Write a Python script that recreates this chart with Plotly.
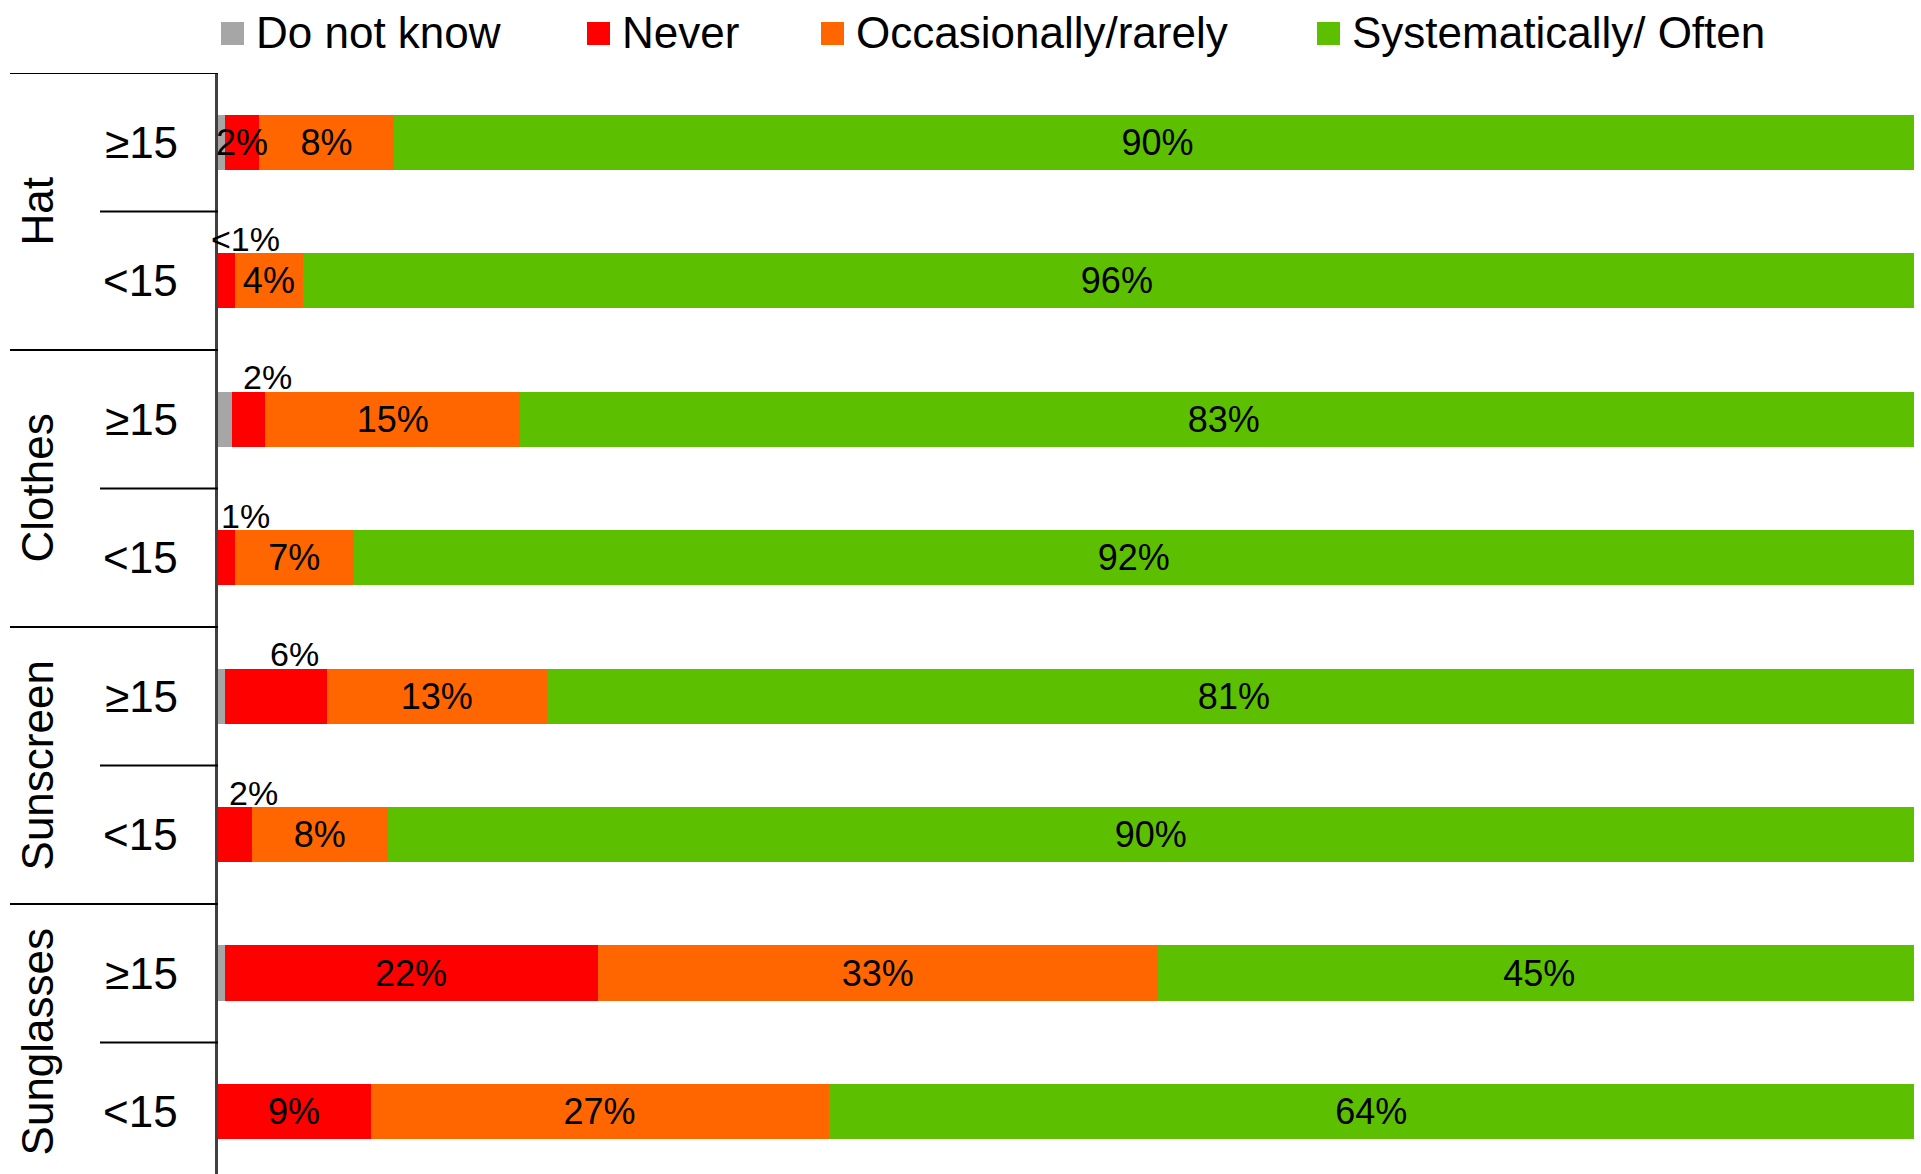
import plotly.graph_objects as go

# ---------------- data ----------------
groups = ["Hat", "Clothes", "Sunscreen", "Sunglasses"]
row_groups = ["Hat", "Hat", "Clothes", "Clothes", "Sunscreen", "Sunscreen", "Sunglasses", "Sunglasses"]
row_ages = ["≥15", "<15", "≥15", "<15", "≥15", "<15", "≥15", "<15"]

series_names = ["Do not know", "Never", "Occasionally/rarely", "Systematically/ Often"]
do_not_know = [0.4, 0.0, 0.8, 0.0, 0.4, 0.0, 0.4, 0.0]
never = [2, 1, 2, 1, 6, 2, 22, 9]
occasionally = [8, 4, 15, 7, 13, 8, 33, 27]
systematically = [90, 96, 83, 92, 81, 90, 45, 64]

never_inside_text = ["2%", "", "", "", "", "", "22%", "9%"]
small_label_text = ["", "<1%", "2%", "1%", "6%", "2%", "", ""]

# ---------------- style ----------------
colors = ["#A6A6A6", "#FF0000", "#FF6600", "#5CBF00"]
FONT = "Liberation Sans, Arial, sans-serif"
W, H = 1921, 1174
PL, PR, PT, PB = 218, 1914, 73, 1174  # plot area in pixels


def px2x(px):
    return (px - PL) / (PR - PL)


def py2y(py):
    return 1 - (py - PT) / (PB - PT)


rows = list(range(len(row_groups)))
values = [do_not_know, never, occasionally, systematically]
texts = [
    [""] * len(rows),
    [""] * len(rows),  # drawn as annotations on top (may overflow the segment)
    [f"{v}%" for v in occasionally],
    [f"{v}%" for v in systematically],
]

fig = go.Figure()
for name, vals, col, txt in zip(series_names, values, colors, texts):
    fig.add_trace(go.Bar(
        name=name, x=vals, y=rows, orientation="h",
        marker=dict(color=col, line=dict(width=0)),
        text=txt, textposition="inside", insidetextanchor="middle",
        textangle=0, constraintext="none",
        textfont=dict(family=FONT, size=36, color="black"),
        showlegend=False, hoverinfo="skip",
    ))

annotations = []
shapes = []

# "Never" labels inside the red segments
for r, t in zip(rows, never_inside_text):
    if t:
        annotations.append(dict(
            x=do_not_know[r] + never[r] / 2, y=r, xref="x", yref="y",
            text=t, showarrow=False, xanchor="center", yanchor="middle",
            font=dict(family=FONT, size=36, color="black"),
        ))

# labels above the small segments
for r, t in zip(rows, small_label_text):
    if t:
        annotations.append(dict(
            x=do_not_know[r] + never[r] / 2, y=r, xref="x", yref="y",
            text=t, showarrow=False, xshift=19, yshift=42,
            font=dict(family=FONT, size=34, color="black"),
        ))

# age labels
for r, a in zip(rows, row_ages):
    annotations.append(dict(
        x=px2x(180), y=r, xref="paper", yref="y", text=a, showarrow=False,
        xanchor="right", yanchor="middle",
        font=dict(family=FONT, size=44, color="black"),
    ))

# group labels + separator lines
for g in groups:
    idx = [r for r in rows if row_groups[r] == g]
    annotations.append(dict(
        x=px2x(37), y=sum(idx) / len(idx), xref="paper", yref="y", text=g,
        showarrow=False, textangle=-90, xanchor="center", yanchor="middle",
        font=dict(family=FONT, size=44, color="black"),
    ))
    top = min(idx) - 0.5
    shapes.append(dict(type="line", xref="paper", yref="y",
                       x0=px2x(10), x1=px2x(PL), y0=top, y1=top,
                       line=dict(color="black", width=2)))
    for r in idx[1:]:
        shapes.append(dict(type="line", xref="paper", yref="y",
                           x0=px2x(100), x1=px2x(PL), y0=r - 0.5, y1=r - 0.5,
                           line=dict(color="black", width=2)))

# manual legend
legend_square_px = [221, 587, 821, 1317]
for name, col, sx in zip(series_names, colors, legend_square_px):
    shapes.append(dict(type="rect", xref="paper", yref="paper",
                       x0=px2x(sx), x1=px2x(sx + 23), y0=py2y(45), y1=py2y(22),
                       fillcolor=col, line=dict(width=0)))
    annotations.append(dict(
        x=px2x(sx + 33), y=py2y(33), xref="paper", yref="paper", text=name,
        showarrow=False, xanchor="left", yanchor="middle",
        font=dict(family=FONT, size=44, color="black"),
    ))

fig.update_layout(
    width=W, height=H,
    margin=dict(l=PL, r=W - PR, t=PT, b=H - PB, pad=0),
    barmode="stack", bargap=0.6,
    paper_bgcolor="white", plot_bgcolor="white",
    xaxis=dict(range=[0, 100], visible=False, fixedrange=True),
    yaxis=dict(range=[7.45, -0.5], showticklabels=False, showgrid=False,
               zeroline=False, ticks="", showline=True, linecolor="#404040",
               linewidth=3, fixedrange=True),
    annotations=annotations, shapes=shapes,
    showlegend=False,
)

fig.write_html("out.html")
